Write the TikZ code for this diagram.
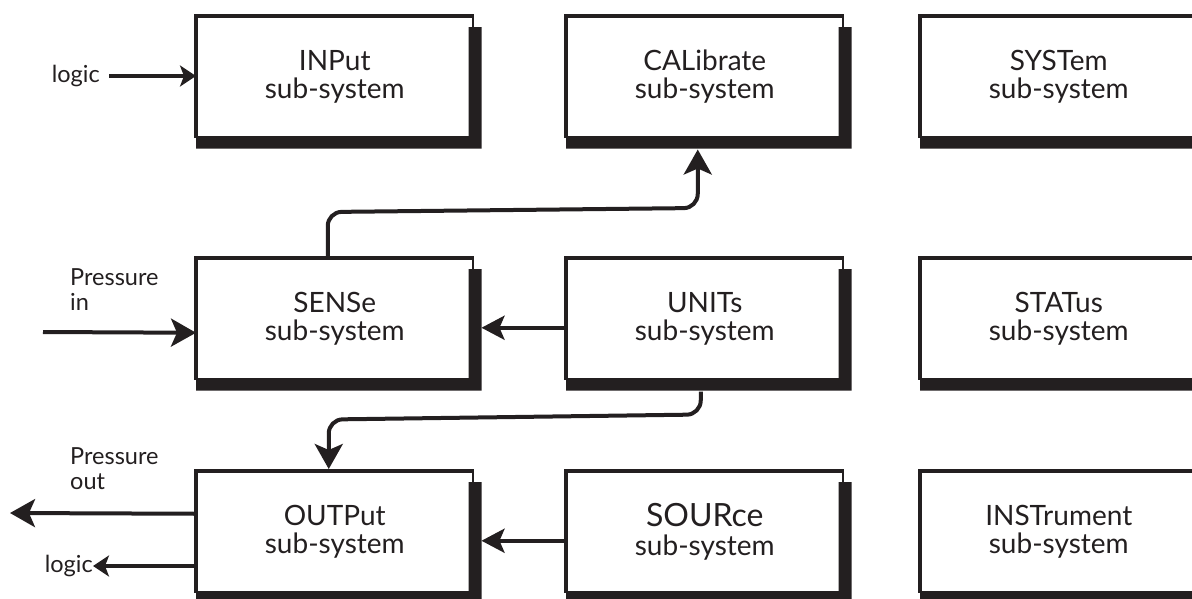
\documentclass[tikz,border=0pt]{standalone}
\usepackage{fontspec}
\setmainfont{Lato}
\usetikzlibrary{arrows.meta,calc}
\definecolor{ink}{HTML}{231F20}
\begin{document}
\begin{tikzpicture}[x=1pt,y=-1pt,
  sub/.style={draw=ink, line width=1.5pt, minimum width=276pt, minimum height=120pt,
    anchor=north west, align=center, text=ink, font=\fontsize{28}{28.5}\selectfont, inner sep=0pt},
  lbl/.style={text=ink, font=\fontsize{23.5}{25}\selectfont, align=left, inner sep=0pt},
  conn/.style={draw=ink, line width=4pt},
  big/.style={-{Stealth[length=25pt,width=28pt,inset=6pt]}},
  mid/.style={-{Stealth[length=23pt,width=24pt,inset=5pt]}},
  small/.style={-{Stealth[length=16pt,width=21pt,inset=4pt]}},
]
\useasboundingbox (0,0) rectangle (1192,598);
% boxes
\node[sub] (inp)   at (196,16)  {INPut\\sub-system};
\node[sub] (cal)   at (566,16)  {CALibrate\\sub-system};
\node[sub] (sys)   at (920,16)  {SYSTem\\sub-system};
\node[sub] (sense) at (196,258) {SENSe\\sub-system};
\node[sub] (units) at (566,258) {UNITs\\sub-system};
\node[sub] (stat)  at (920,258) {STATus\\sub-system};
\node[sub] (outp)  at (196,471) {OUTPut\\sub-system};
\node[sub] (src)   at (566,471) {{\fontsize{32}{30}\selectfont SOURce}\\sub-system};
\node[sub] (inst)  at (920,471) {INSTrument\\sub-system};
\foreach \b in {inp,cal,sys,sense,units,stat,outp,src,inst}{
  \fill[ink] (\b.south west) -- ($(\b.south east)+(-5,0)$) -- ($(\b.north east)+(-5,11)$)
    -- ($(\b.north east)+(8,11)$) -- ($(\b.south east)+(8,11)$) -- ($(\b.south west)+(0,11)$) -- cycle;
  \draw[ink, line width=4pt] (\b.south west) -- (\b.north west) -- (\b.north east);
}
% labels
\node[lbl, anchor=east] (logi) at (100,76) {logic};
\node[lbl, anchor=north west] (pin) at (70,268) {Pressure\\in};
\node[lbl, anchor=north west] (pout) at (70,447) {Pressure\\out};
\node[lbl, anchor=east] (logo) at (93,566) {logic};
\coordinate (pinstart) at (43,332);
\coordinate (poutend) at (10,513);
% connectors
\draw[conn,small] ([xshift=9pt]logi.east) -- (inp.west |- logi.east);
\draw[conn,big] (pinstart) -- ([yshift=-14pt]sense.west);
\draw[conn,mid] ([yshift=-9pt]units.west) -- ([xshift=8pt,yshift=-9pt]sense.east);
\draw[conn,mid] ([yshift=-9pt]src.west) -- ([xshift=8pt,yshift=-9pt]outp.east);
\draw[conn,big] ([yshift=18pt]outp.west) -- (poutend);
\draw[conn,small] (outp.west |- logo.east) -- (logo.east);
\draw[conn,big,rounded corners=14pt] ([xshift=-7pt]sense.north) -- ++(0,-46) -- ++(370,-4)
  -- ([xshift=-7pt,yshift=-12pt]cal.south);
\draw[conn,big,rounded corners=14pt] ([xshift=-4pt,yshift=-12pt]units.south) -- ++(0,23) -- ++(-372,5)
  -- ([xshift=-6pt,yshift=2pt]outp.north);
\end{tikzpicture}
\end{document}
